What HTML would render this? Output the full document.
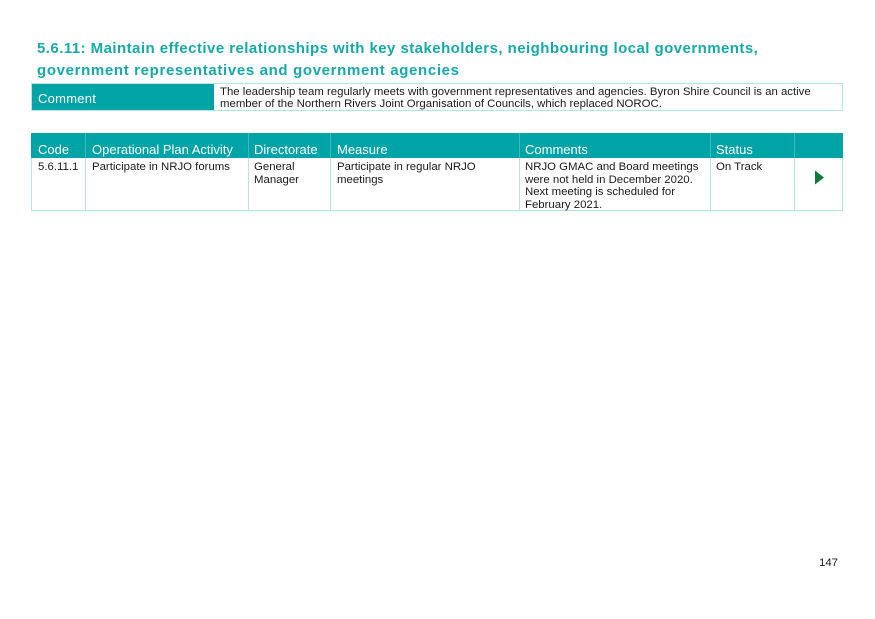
<!DOCTYPE html>
<html>
<head>
<meta charset="utf-8">
<style>
  html, body { margin:0; padding:0; background:#ffffff; }
  body { width:875px; height:619px; position:relative; overflow:hidden;
         font-family:"Liberation Sans", Arial, sans-serif; color:#1a1a1a; }
  .abs { position:absolute; white-space:nowrap; }
  .title { left:37px; font-size:15px; font-weight:bold; color:#17a8a9; line-height:22px; }
  .teal { background:#00a3a6; }
  .hdr { color:#ffffff; font-size:13px; line-height:14px; }
  .body { font-size:11.4px; line-height:12.7px; color:#1a1a1a; }
  .vline { position:absolute; width:1px; }
</style>
</head>
<body>

<!-- Title -->
<div class="abs title" style="top:38px; letter-spacing:0.45px;">5.6.11: Maintain effective relationships with key stakeholders, neighbouring local governments,</div>
<div class="abs title" style="top:60px; letter-spacing:0.65px;">government representatives and government agencies</div>

<!-- Comment box -->
<div class="abs" style="left:31px; top:83px; width:810px; height:26px; border:1px solid #b6e3e6;"></div>
<div class="abs teal" style="left:32px; top:84px; width:182px; height:26px;"></div>
<div class="abs hdr" style="left:38px; top:92px; letter-spacing:0.25px;">Comment</div>
<div class="abs body" style="left:220px; top:86px; line-height:12.3px;">The leadership team regularly meets with government representatives and agencies. Byron Shire Council is an active<br>member of the Northern Rivers Joint Organisation of Councils, which replaced NOROC.</div>

<!-- Table header -->
<div class="abs teal" style="left:31px; top:133px; width:812px; height:25px;"></div>
<!-- header dividers -->
<div class="vline" style="left:85px; top:133px; height:25px; background:#3fb9bb;"></div>
<div class="vline" style="left:248px; top:133px; height:25px; background:#3fb9bb;"></div>
<div class="vline" style="left:330px; top:133px; height:25px; background:#3fb9bb;"></div>
<div class="vline" style="left:519px; top:133px; height:25px; background:#3fb9bb;"></div>
<div class="vline" style="left:710px; top:133px; height:25px; background:#3fb9bb;"></div>
<div class="vline" style="left:794px; top:133px; height:25px; background:#3fb9bb;"></div>

<div class="abs hdr" style="left:38px; top:143px;">Code</div>
<div class="abs hdr" style="left:92px; top:143px;">Operational Plan Activity</div>
<div class="abs hdr" style="left:254px; top:143px;">Directorate</div>
<div class="abs hdr" style="left:337px; top:143px;">Measure</div>
<div class="abs hdr" style="left:525px; top:143px;">Comments</div>
<div class="abs hdr" style="left:716px; top:143px;">Status</div>

<!-- Table body row borders -->
<div class="abs" style="left:31px; top:158px; width:810px; height:52px; border:1px solid #b6e3e6; border-top:none;"></div>
<div class="vline" style="left:85px; top:158px; height:53px; background:#b6e3e6;"></div>
<div class="vline" style="left:248px; top:158px; height:53px; background:#b6e3e6;"></div>
<div class="vline" style="left:330px; top:158px; height:53px; background:#b6e3e6;"></div>
<div class="vline" style="left:519px; top:158px; height:53px; background:#b6e3e6;"></div>
<div class="vline" style="left:710px; top:158px; height:53px; background:#b6e3e6;"></div>
<div class="vline" style="left:794px; top:158px; height:53px; background:#b6e3e6;"></div>

<!-- Body text -->
<div class="abs body" style="left:38px; top:161px;">5.6.11.1</div>
<div class="abs body" style="left:92px; top:161px;">Participate in NRJO forums</div>
<div class="abs body" style="left:254px; top:161px;">General<br>Manager</div>
<div class="abs body" style="left:337px; top:161px;">Participate in regular NRJO<br>meetings</div>
<div class="abs body" style="left:525px; top:161px;">NRJO GMAC and Board meetings<br>were not held in December 2020.<br>Next meeting is scheduled for<br>February 2021.</div>
<div class="abs body" style="left:716px; top:161px;">On Track</div>

<!-- Status arrow -->
<svg class="abs" style="left:0; top:0;" width="875" height="619" viewBox="0 0 875 619">
  <polygon points="815,170.5 824,177.5 815,184.5" fill="#0b7a3b"/>
</svg>

<!-- Page number -->
<div class="abs body" style="left:819px; top:557px; line-height:12px;">147</div>

</body>
</html>
